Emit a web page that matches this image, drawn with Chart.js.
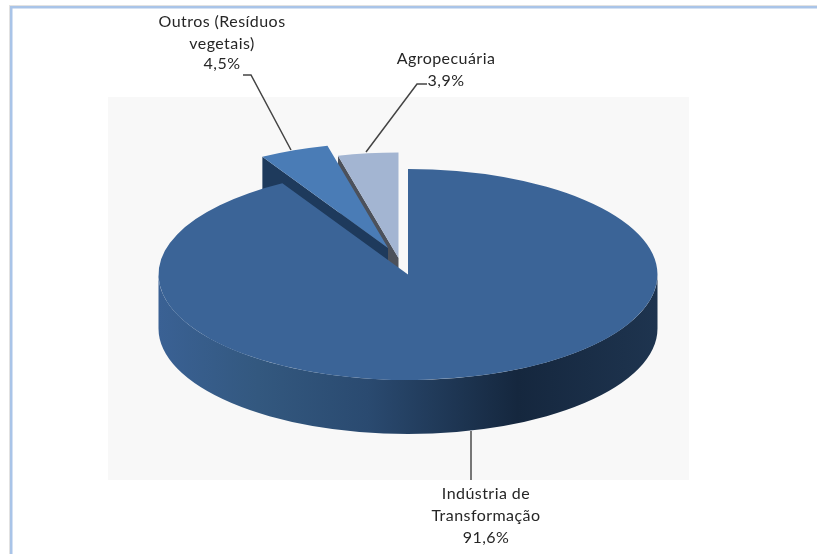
<!DOCTYPE html>
<html><head><meta charset="utf-8">
<style>html,body{margin:0;padding:0;background:#fff}canvas{display:block}</style>
<script src="https://cdn.jsdelivr.net/npm/chart.js@4/dist/chart.umd.min.js"></script>
</head><body><canvas id="c" width="817" height="554"></canvas>
<script>
const categories = ['Indústria de Transformação', 'Outros (Resíduos vegetais)', 'Agropecuária'];
const shares = [91.6, 4.5, 3.9];
const labelLines = [['Indústria de', 'Transformação'], ['Outros (Resíduos', 'vegetais)'], ['Agropecuária']];
const topColors = ['#3b6497', '#4a7cb6', '#a3b5d2'];

const view = {cx: 408, cy: 274.5, rx: 249.5, ry: 105.5, depth: 54};
const explode = [[0, 0], [-20, -26.5], [-9.5, -16.5]];
const edgeColors = ['#1b2f49', '#1e3a5c', '#4c515b'];
const labelPos = [[486, [494, 516, 538]], [222, [22, 44, 64]], [446, [59, 81]]];
const leaders = [
  {pts: [[471, 431], [471, 480]], color: '#777', w: 2},
  {pts: [[243, 75], [251, 75], [291, 150]], color: '#444', w: 1.5},
  {pts: [[427, 84], [417, 84], [366, 152]], color: '#444', w: 1.5}
];

const pie3d = {
  id: 'pie3d',
  beforeDraw(chart) {
    const ctx = chart.ctx;
    ctx.save();
    ctx.fillStyle = '#fff'; ctx.fillRect(0, 0, 817, 554);
    ctx.fillStyle = '#e2e2e2'; ctx.fillRect(9, 5, 808, 1); ctx.fillRect(9, 5, 1, 549);
    ctx.fillStyle = '#a9c4e8'; ctx.fillRect(10, 6, 807, 2.5); ctx.fillRect(10, 6, 2.5, 548);
    ctx.fillStyle = '#f8f8f8'; ctx.fillRect(108, 97, 581, 383);
    ctx.restore();
  },
  beforeDatasetDraw(chart) {
    const ctx = chart.ctx;
    const arcs = chart.getDatasetMeta(0).data;
    [2, 1, 0].forEach(i => {
      const el = arcs[i];
      const cx = view.cx + explode[i][0], cy = view.cy + explode[i][1];
      const a0 = el.startAngle, a1 = el.endAngle;
      // outer rim, front half only
      const from = Math.max(a0, 0), to = Math.min(a1, Math.PI);
      if (to > from) {
        const g = ctx.createLinearGradient(view.cx - view.rx, 0, view.cx + view.rx, 0);
        g.addColorStop(0, '#3a6194');
        g.addColorStop(0.2, '#33587f');
        g.addColorStop(0.42, '#2a4a70');
        g.addColorStop(0.72, '#15273e');
        g.addColorStop(1, '#1e344f');
        ctx.save();
        ctx.beginPath();
        ctx.ellipse(cx, cy, view.rx, view.ry, 0, from, to);
        ctx.ellipse(cx, cy + view.depth, view.rx, view.ry, 0, to, from, true);
        ctx.closePath();
        ctx.fillStyle = g; ctx.fill();
        ctx.restore();
      }
      // cut face on the start side of the slice, when it faces the viewer
      if (Math.sin(a0 - Math.PI / 2) > 1e-6) {
        const ox = cx + view.rx * Math.cos(a0), oy = cy + view.ry * Math.sin(a0);
        ctx.save();
        ctx.beginPath();
        ctx.moveTo(cx, cy); ctx.lineTo(ox, oy);
        ctx.lineTo(ox, oy + view.depth); ctx.lineTo(cx, cy + view.depth);
        ctx.closePath();
        ctx.fillStyle = edgeColors[i]; ctx.fill();
        ctx.restore();
      }
      // top face: the library's own arc under a tilt transform
      ctx.save();
      ctx.translate(cx, cy);
      ctx.scale(view.rx / el.outerRadius, view.ry / el.outerRadius);
      ctx.translate(-el.x, -el.y);
      el.draw(ctx);
      ctx.restore();
    });
    return false;
  },
  afterDraw(chart) {
    const ctx = chart.ctx;
    ctx.save();
    leaders.forEach(l => {
      ctx.beginPath();
      l.pts.forEach((p, k) => k ? ctx.lineTo(p[0], p[1]) : ctx.moveTo(p[0], p[1]));
      ctx.strokeStyle = l.color; ctx.lineWidth = l.w; ctx.stroke();
    });
    ctx.font = '16px Lato, "Open Sans", sans-serif';
    ctx.letterSpacing = '0.45px';
    ctx.fillStyle = '#262626';
    ctx.textAlign = 'center'; ctx.textBaseline = 'middle';
    shares.forEach((v, i) => {
      const lines = labelLines[i].concat(v.toFixed(1).replace('.', ',') + '%');
      lines.forEach((t, k) => ctx.fillText(t, labelPos[i][0], labelPos[i][1][k]));
    });
    ctx.restore();
  }
};

new Chart(document.getElementById('c'), {
  type: 'pie',
  data: {labels: categories, datasets: [{data: shares, backgroundColor: topColors, borderWidth: 0, hoverOffset: 0}]},
  options: {
    responsive: false,
    animation: false,
    layout: {padding: 20},
    plugins: {legend: {display: false}, tooltip: {enabled: false}, title: {display: false}}
  },
  plugins: [pie3d]
});
</script>
</body></html>
